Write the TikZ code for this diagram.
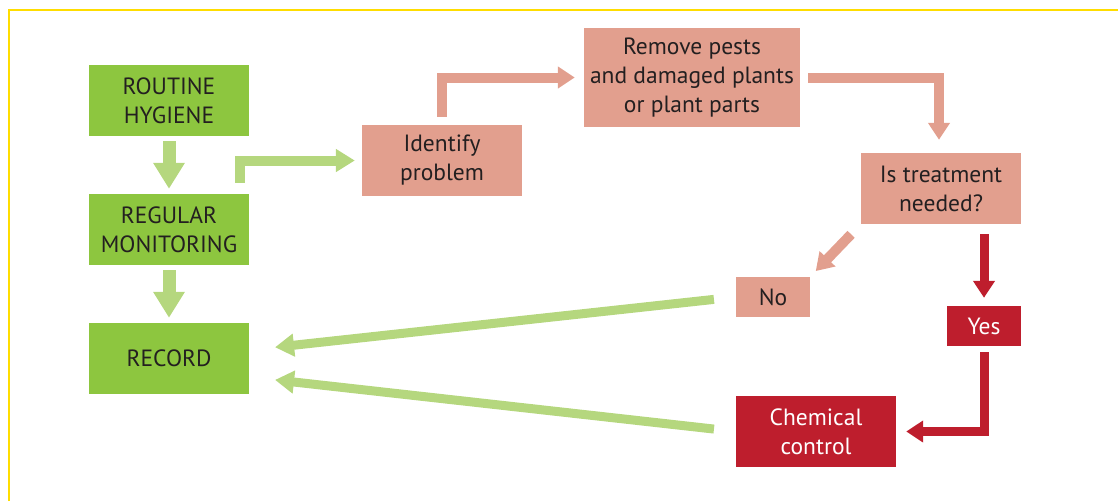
\documentclass[tikz,border=0pt]{standalone}
\usepackage{fontspec}
\setmainfont{PT Sans}
\usetikzlibrary{arrows.meta}

\definecolor{leafgreen}{HTML}{8DC63F}
\definecolor{palegreen}{HTML}{B5D77E}
\definecolor{salmon}{HTML}{E29F8E}
\definecolor{pestred}{HTML}{BE1E2D}
\definecolor{frameyellow}{HTML}{FFDD00}
\definecolor{inktext}{HTML}{231F20}

\tikzset{
	box/.style={inner sep=0pt, align=center, text=inktext,
		font=\fontsize{23.5}{29}\selectfont},
	greenbox/.style={box, fill=leafgreen, minimum width=160pt, minimum height=71pt},
	pinkbox/.style={box, fill=salmon},
	redbox/.style={box, fill=pestred, text=white},
	greendown/.style={draw=palegreen, line width=13pt, -{Triangle[width=30pt,length=26pt]}},
	greenflow/.style={draw=palegreen, line width=10pt, -{Triangle[width=22pt,length=19pt]}},
	pinkflow/.style={draw=salmon, line width=10pt, -{Triangle[width=21pt,length=17pt]}},
	redflow/.style={draw=pestred, line width=9pt, -{Triangle[width=21pt,length=17pt]}}
}

\begin{document}
\begin{tikzpicture}[x=1pt, y=-1pt]
	\useasboundingbox (0,0) rectangle (1118,501);
	\draw [frameyellow, line width=2.5pt] (9,501) -- (9,10) -- (1118,10);

	% left column
	\node [greenbox] (hyg) at (169,100.5) {ROUTINE\\HYGIENE};
	\node [greenbox] (mon) at (169,229.5) {REGULAR\\MONITORING};
	\node [greenbox] (rec) at (169,358.5) {RECORD};

	% problem path
	\node [pinkbox, minimum width=160pt, minimum height=71pt] (idp) at (442,160.5) {Identify\\problem};
	\node [pinkbox, minimum width=216pt, minimum height=99pt] (rem) at (692,77.5) {Remove pests\\and damaged plants\\or plant parts};
	\node [pinkbox, minimum width=160pt, minimum height=71pt] (isq) at (941,188.5) {Is treatment\\needed?};
	\node [pinkbox, minimum width=74pt, minimum height=40pt] (no) at (773,297) {No};
	\node [redbox, minimum width=74pt, minimum height=40pt] (yes) at (984,326) {Yes};
	\node [redbox, minimum width=160pt, minimum height=71pt] (chem) at (816,431.5) {Chemical\\control};

	\draw [greendown, shorten <=5pt, shorten >=5pt] (hyg) -- (mon);
	\draw [greendown, shorten <=5pt, shorten >=5pt] (mon) -- (rec);
	\draw [greenflow, shorten <=11pt, shorten >=7pt] ([xshift=-9pt]mon.north east) |- (idp.west);
	\draw [pinkflow, shorten <=8pt, shorten >=9pt] (idp.north) |- (rem.west);
	\draw [pinkflow, shorten <=8pt, shorten >=13pt] (rem.east) -| ([xshift=-2pt]isq.north);
	\draw [pinkflow, shorten <=14pt, shorten >=8pt] (isq.south west) -- (no.north east);
	\draw [redflow, shorten <=10pt, shorten >=8pt] (yes.north |- isq.south) -- (yes.north);
	\draw [redflow, shorten <=6pt, shorten >=10pt] (yes.south) |- (chem.east);

	% back to record
	\draw [greenflow, line width=9pt, shorten <=22pt, shorten >=26pt] (no.west) -- (rec.6);
	\draw [greenflow, line width=9pt, shorten <=22pt, shorten >=26pt] (chem.west) -- (rec.-13);
\end{tikzpicture}
\end{document}
